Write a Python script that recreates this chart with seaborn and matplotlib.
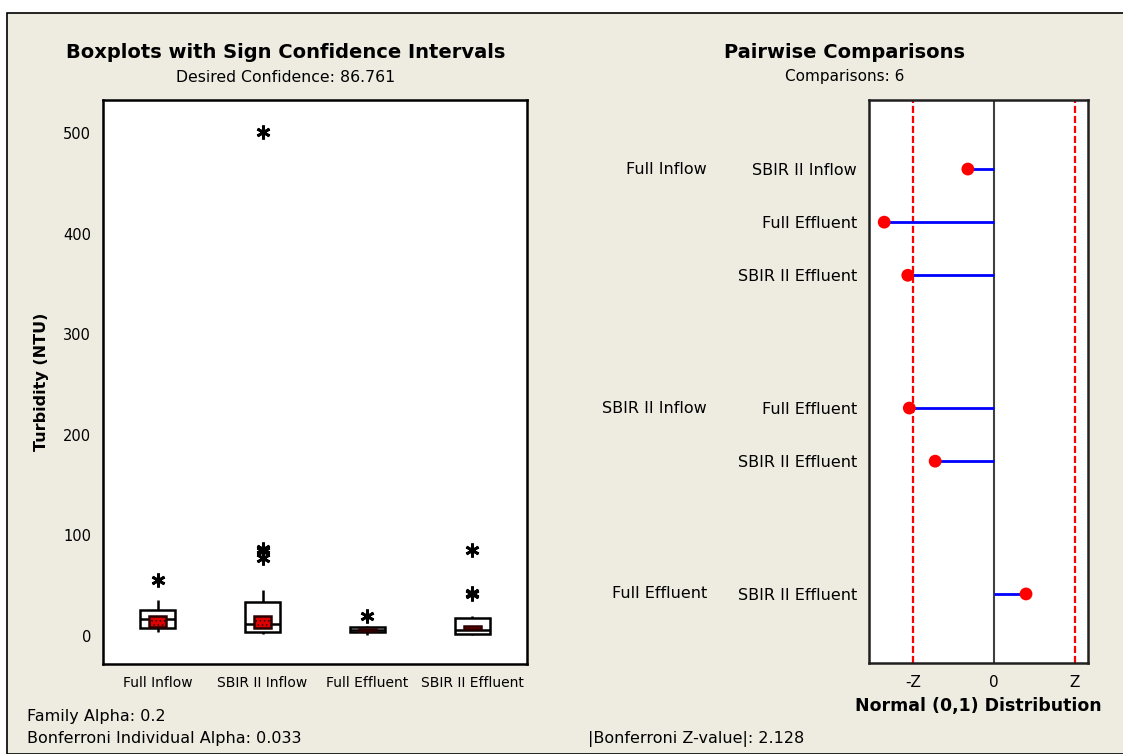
import matplotlib
matplotlib.use("Agg")
import matplotlib.pyplot as plt
import matplotlib.transforms as mtransforms
from matplotlib.patches import Rectangle
import pandas as pd
import seaborn as sns

# ---- data ----
groups = ["Full Inflow", "SBIR II Inflow", "Full Effluent", "SBIR II Effluent"]
full_inflow = [3.7, 5.0, 7.7, 12.0, 16.3, 21.0, 25.6, 35.5, 56.0]
sbir_inflow = [1.4, 2.0, 2.5, 3.0, 3.2, 3.4, 5.0, 7.0, 8.5, 10.0, 11.6,
               15.0, 20.0, 25.0, 30.0, 33.3, 45.5, 77.0, 84.0, 86.0, 501.0]
full_effluent = [1.0, 2.5, 3.4, 4.5, 5.7, 7.0, 8.7, 9.7, 19.3]
sbir_effluent = [1.0, 1.2, 1.4, 1.6, 1.7, 2.5, 3.5, 5.0, 6.0,
                 9.0, 12.0, 15.0, 18.0, 19.6, 42.0, 43.0, 85.0]
ci_low = [9.0, 7.7, 4.6, 6.4]
ci_high = [20.0, 20.0, 7.0, 9.7]

comp_labels = ["SBIR II Inflow", "Full Effluent", "SBIR II Effluent",
               "Full Effluent", "SBIR II Effluent", "SBIR II Effluent"]
comp_rows = [1, 2, 3, 5.5, 6.5, 9]
comp_z = [-0.69, -2.89, -2.27, -2.23, -1.55, 0.84]
group_labels = ["Full Inflow", "SBIR II Inflow", "Full Effluent"]
group_rows = [1, 5.5, 9]
z_crit = 2.128

df = pd.DataFrame({
    "grp": ([groups[0]] * len(full_inflow) + [groups[1]] * len(sbir_inflow)
            + [groups[2]] * len(full_effluent) + [groups[3]] * len(sbir_effluent)),
    "val": full_inflow + sbir_inflow + full_effluent + sbir_effluent,
})
comp_df = pd.DataFrame({"z": comp_z, "row": comp_rows})

sns.set_style("white")
plt.rcParams["font.family"] = ["DejaVu Sans"]
plt.rcParams["text.color"] = "black"
plt.rcParams["axes.labelcolor"] = "black"
plt.rcParams["xtick.color"] = "black"
plt.rcParams["ytick.color"] = "black"
plt.rcParams["hatch.color"] = "#8A0000"
plt.rcParams["hatch.linewidth"] = 0.6
BG = "#EEEBE1"

fig = plt.figure(figsize=(11.23, 7.54), dpi=100)
fig.patch.set_facecolor("white")
fig.patches.append(Rectangle((7 / 1123, 0), 1.0, 741 / 754,
                             transform=fig.transFigure, facecolor=BG,
                             edgecolor="black", lw=1.2, zorder=-10))

# ---------------- left: boxplots ----------------
ax1 = fig.add_axes([103 / 1123, 1 - 664 / 754, 424 / 1123, 564 / 754])
ax1.set_facecolor("white")
sns.boxplot(data=df, x="grp", y="val", order=groups, ax=ax1, whis=1.4,
            width=0.34, color="white", linecolor="black", linewidth=1.8,
            capprops={"visible": False},
            flierprops={"marker": (6, 2, 0), "markersize": 10,
                        "markeredgewidth": 2.0, "markeredgecolor": "black"})
xs = list(range(len(groups)))
hts = [h - l for h, l in zip(ci_high, ci_low)]
ax1.bar(xs, hts, bottom=ci_low, width=0.17, color="#E00000",
        edgecolor="#2A0000", linewidth=1.8, hatch="....", zorder=5)

ax1.set_xlim(-0.52, 3.52)
ax1.set_ylim(-28, 533)
ax1.set_yticks([0, 100, 200, 300, 400, 500])
ax1.set_xlabel("")
ax1.set_ylabel("Turbidity (NTU)", fontsize=11.5, fontweight="bold")
ax1.yaxis.set_label_coords(-0.127, 0.5)
ax1.tick_params(axis="both", direction="out", length=5, width=1.6,
                color="black", labelsize=10.5)
ax1.tick_params(axis="x", labelsize=10)
for s in ax1.spines.values():
    s.set_visible(True)
    s.set_color("black")
    s.set_linewidth(1.8)

fig.text(286 / 1123, 1 - 52 / 754, "Boxplots with Sign Confidence Intervals",
         ha="center", va="center", fontsize=14, fontweight="bold")
fig.text(286 / 1123, 1 - 77 / 754, "Desired Confidence: 86.761",
         ha="center", va="center", fontsize=11.3)

# ---------------- right: pairwise comparisons ----------------
ax2 = fig.add_axes([869 / 1123, 1 - 663 / 754, 219 / 1123, 563 / 754])
ax2.set_facecolor("white")
ax2.axvline(0, color="#404040", lw=1.5, zorder=1)
for zc in (-z_crit, z_crit):
    ax2.axvline(zc, color="red", lw=1.6, ls=(0, (3.2, 1.3)), zorder=1)
ax2.hlines(comp_rows, 0, comp_z, color="#0000FF", lw=2, zorder=2)
sns.scatterplot(data=comp_df, x="z", y="row", ax=ax2, color="red", s=85,
                edgecolor="none", zorder=3)
ax2.set_xlim(-3.29, 2.47)
ax2.set_ylim(10.3, -0.3)
ax2.set_xticks([-z_crit, 0, z_crit])
ax2.set_xticklabels(["-Z", "0", "Z"])
ax2.set_yticks(comp_rows)
ax2.set_yticklabels(comp_labels)
ax2.set_ylabel("")
ax2.set_xlabel("Normal (0,1) Distribution", fontsize=12.5, fontweight="bold",
               labelpad=5)
ax2.tick_params(axis="both", direction="out", length=5, width=1.6,
                color="black", labelsize=11.5)
ax2.tick_params(axis="x", labelsize=11)
for s in ax2.spines.values():
    s.set_visible(True)
    s.set_color("#202020")
    s.set_linewidth(1.8)
trans = mtransforms.blended_transform_factory(ax2.transAxes, ax2.transData)
for lab, r in zip(group_labels, group_rows):
    ax2.text(-0.74, r, lab, transform=trans, ha="right", va="center",
             fontsize=11.5)

fig.text(845 / 1123, 1 - 52 / 754, "Pairwise Comparisons",
         ha="center", va="center", fontsize=14, fontweight="bold")
fig.text(845 / 1123, 1 - 77 / 754, "Comparisons: 6",
         ha="center", va="center", fontsize=11)

# ---------------- footer ----------------
fig.text(27 / 1123, 1 - 716 / 754, "Family Alpha: 0.2", ha="left",
         va="center", fontsize=11.5)
fig.text(27 / 1123, 1 - 739 / 754, "Bonferroni Individual Alpha: 0.033",
         ha="left", va="center", fontsize=11.5)
fig.text(588 / 1123, 1 - 739 / 754, "|Bonferroni Z-value|: 2.128",
         ha="left", va="center", fontsize=11.5)

fig.savefig("out.png", dpi=100, facecolor=fig.get_facecolor())
